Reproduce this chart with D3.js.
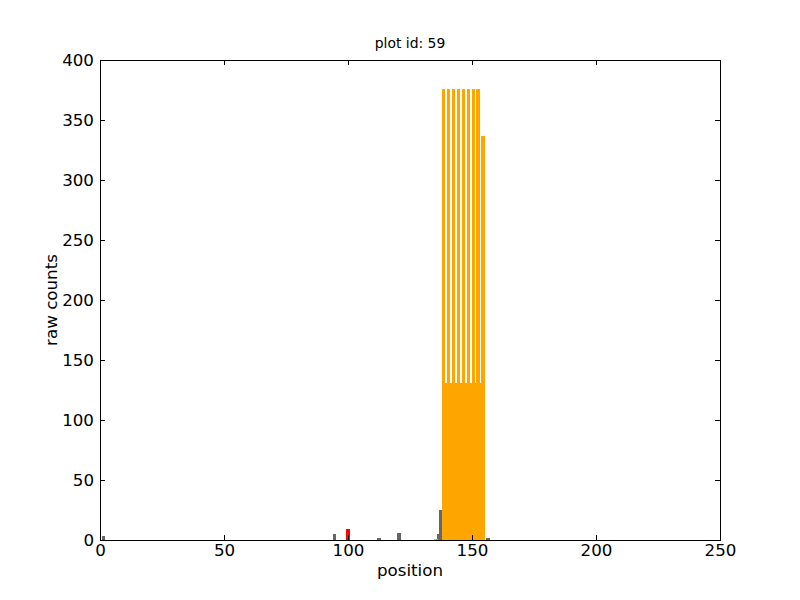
<!DOCTYPE html>
<html>
<head>
<meta charset="utf-8">
<script src="https://cdn.jsdelivr.net/npm/d3@7"></script>
<style>
body { margin: 0; background: #fff; }
text { font-family: "DejaVu Sans", sans-serif; }
</style>
</head>
<body>
<div id="plot"></div>
<script>
var margin = {top: 60, right: 80, bottom: 60, left: 100},
width = 800 - margin.left - margin.right,
height = 600 - margin.top - margin.bottom;

// grey bars
var greyPos = [1, 94, 112, 120, 136, 137, 156];
var greyCounts = [3, 5, 2, 6, 5, 25, 2];

// red bar
var redPos = [100];
var redCounts = [9];

// orange bars
var orangePos = [135, 138, 139, 140, 141, 142, 143, 144, 145, 146, 147, 148, 149, 150, 151, 152, 153, 154];
var orangeCounts = [1, 376, 131, 376, 131, 376, 131, 376, 131, 376, 131, 376, 131, 376, 131, 376, 131, 337];

var xTicks = [0, 50, 100, 150, 200, 250];
var yTicks = [0, 50, 100, 150, 200, 250, 300, 350, 400];

var svg = d3.select("#plot")
.append("svg")
.attr("width", width + margin.left + margin.right)
.attr("height", height + margin.top + margin.bottom)
.append("g")
.attr("transform", "translate(" + margin.left + "," + margin.top + ")");

var x = d3.scaleLinear().domain([0, 250]).range([0, width]);
var y = d3.scaleLinear().domain([0, 400]).range([height, 0]);

// snap bar edges outward to whole pixels, like the agg renderer does
function drawBars(pos, counts, color, shift) {
  svg.append("g")
  .selectAll("rect")
  .data(pos)
  .enter()
  .append("rect")
  .attr("x", function(d) { return Math.floor(x(d + shift)); })
  .attr("width", function(d) { return Math.ceil(x(d + shift + 1)) - Math.floor(x(d + shift)); })
  .attr("y", function(d, i) { return Math.round(y(counts[i])); })
  .attr("height", function(d, i) { return y(0) - Math.round(y(counts[i])); })
  .attr("shape-rendering", "crispEdges")
  .style("fill", color);
}

drawBars(greyPos, greyCounts, "#666666", 0);
drawBars(redPos, redCounts, "#ff0000", -0.5);
drawBars(orangePos, orangeCounts, "#ffa500", 0);

// axes, ticks pointing inward like matplotlib classic
svg.append("g")
.attr("transform", "translate(0," + height + ")")
.call(d3.axisBottom(x).tickValues(xTicks).tickSizeInner(-5).tickSizeOuter(0).tickPadding(4));
svg.append("g")
.call(d3.axisTop(x).tickValues(xTicks).tickSizeInner(-5).tickSizeOuter(0).tickFormat(""));
svg.append("g")
.call(d3.axisLeft(y).tickValues(yTicks).tickSizeInner(-5).tickSizeOuter(0).tickPadding(6));
svg.append("g")
.attr("transform", "translate(" + width + ",0)")
.call(d3.axisRight(y).tickValues(yTicks).tickSizeInner(-5).tickSizeOuter(0).tickFormat(""));

svg.selectAll(".domain").remove();
svg.selectAll(".tick line").attr("stroke", "#000");
svg.selectAll(".tick text").style("font-size", "16.7px").style("fill", "#000");

svg.append("rect")
.attr("x", 0.5)
.attr("y", 0.5)
.attr("width", width)
.attr("height", height)
.attr("fill", "none")
.attr("stroke", "#000")
.attr("stroke-width", 1);

svg.append("text")
.attr("x", width / 2)
.attr("y", -12)
.attr("text-anchor", "middle")
.style("font-size", "13.9px")
.text("plot id: 59");

svg.append("text")
.attr("x", width / 2)
.attr("y", height + 36)
.attr("text-anchor", "middle")
.style("font-size", "16.7px")
.text("position");

svg.append("text")
.attr("transform", "rotate(-90)")
.attr("x", -height / 2)
.attr("y", -43)
.attr("text-anchor", "middle")
.style("font-size", "16.7px")
.text("raw counts");
</script>
</body>
</html>
